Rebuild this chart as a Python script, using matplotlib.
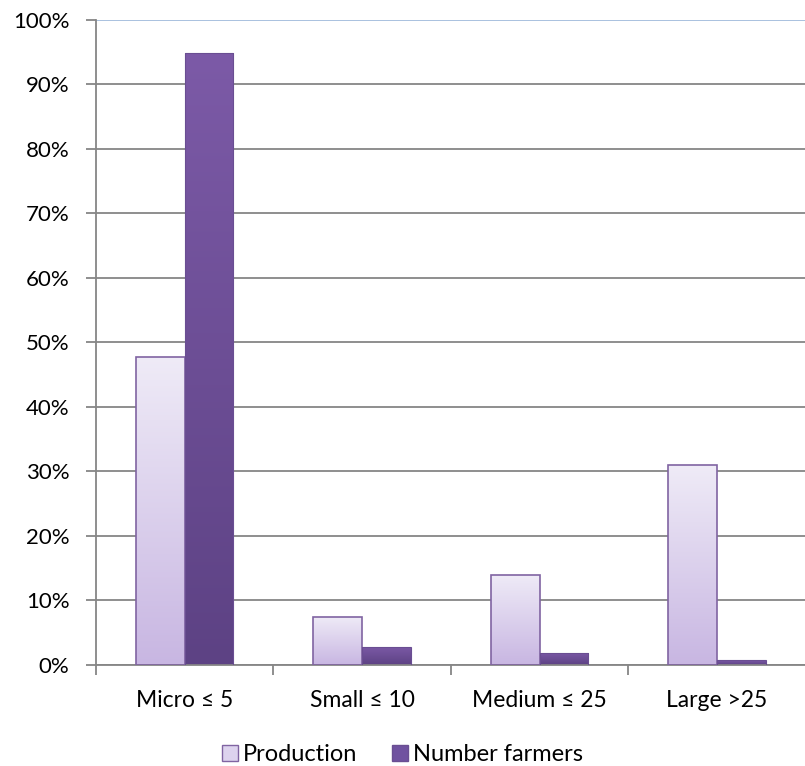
import matplotlib.pyplot as plt
import matplotlib.colors as mcolors
from matplotlib.patches import Patch
import numpy as np

# 数据：各规模等级的产量占比与农户数量占比
categories = ['Micro ≤ 5', 'Small ≤ 10', 'Medium ≤ 25', 'Large >25']
production = [47.8, 7.5, 14.0, 31.0]
number_farmers = [94.8, 2.8, 1.9, 0.7]
yticks = [0, 10, 20, 30, 40, 50, 60, 70, 80, 90, 100]

plt.rcParams['font.family'] = ['Lato', 'DejaVu Sans']

fig = plt.figure(figsize=(8.05, 7.66), dpi=100)
ax = fig.add_axes([0.119, 0.132, 0.882, 0.842])

x = np.arange(len(categories))
w = 0.275

bars_p = ax.bar(x - w / 2, production, width=w, facecolor='none',
                edgecolor='#8064a2', linewidth=1.2, zorder=3)
bars_f = ax.bar(x + w / 2, number_farmers, width=w, facecolor='none',
                edgecolor='#6a4e92', linewidth=0.8, zorder=3)


def fill_gradient(bars, top_color, bottom_color):
    # 用渐变图像填充每个柱子，并裁剪到柱子的形状
    cmap = mcolors.LinearSegmentedColormap.from_list('g', [bottom_color, top_color])
    grad = np.linspace(0, 1, 256).reshape(-1, 1)
    for b in bars:
        x0, y0 = b.get_x(), b.get_y()
        x1, y1 = x0 + b.get_width(), y0 + b.get_height()
        im = ax.imshow(grad, cmap=cmap, origin='lower', aspect='auto',
                       extent=[x0, x1, y0, y1], zorder=2)
        im.set_clip_path(b)


fill_gradient(bars_p, '#efebf7', '#c8b6e2')
fill_gradient(bars_f, '#7c5aa7', '#5d4284')

ax.set_xlim(-0.5, len(categories) - 0.5)
ax.set_ylim(0, 100)
ax.set_yticks(yticks)
ax.set_yticklabels([f'{t}%' for t in yticks])
ax.set_xticks(x)
ax.set_xticklabels(categories)
ax.set_xticks(np.arange(len(categories) + 1) - 0.5, minor=True)

ax.yaxis.grid(True, color='#868686', linewidth=1.3, zorder=0)
ax.set_axisbelow(True)
# 顶部 100% 网格线颜色偏浅蓝
ax.get_ygridlines()[-1].set_color('#a3bcdc')

for s in ['top', 'right']:
    ax.spines[s].set_visible(False)
ax.spines['left'].set_color('#868686')
ax.spines['left'].set_linewidth(1.3)
ax.spines['bottom'].set_color('#868686')
ax.spines['bottom'].set_linewidth(1.3)

ax.tick_params(axis='y', length=7, width=1.3, color='#868686',
               labelsize=16, pad=12, labelcolor='black')
ax.tick_params(axis='x', which='major', length=0, labelsize=16.5, pad=18)
ax.tick_params(axis='x', which='minor', length=7, width=1.3, color='#868686')

# 图例中的色块
handles = [Patch(facecolor='#ddd3ee', edgecolor='#8064a2', label='Production'),
           Patch(facecolor='#7052a0', edgecolor='#6a4e92', label='Number farmers')]
fig.legend(handles=handles, loc='center', bbox_to_anchor=(0.5, 0.0144), ncol=2,
           frameon=False, fontsize=17, handlelength=0.68, handleheight=0.68,
           handletextpad=0.2, columnspacing=1.45, borderpad=0.1)

fig.savefig('out.png', dpi=100)
